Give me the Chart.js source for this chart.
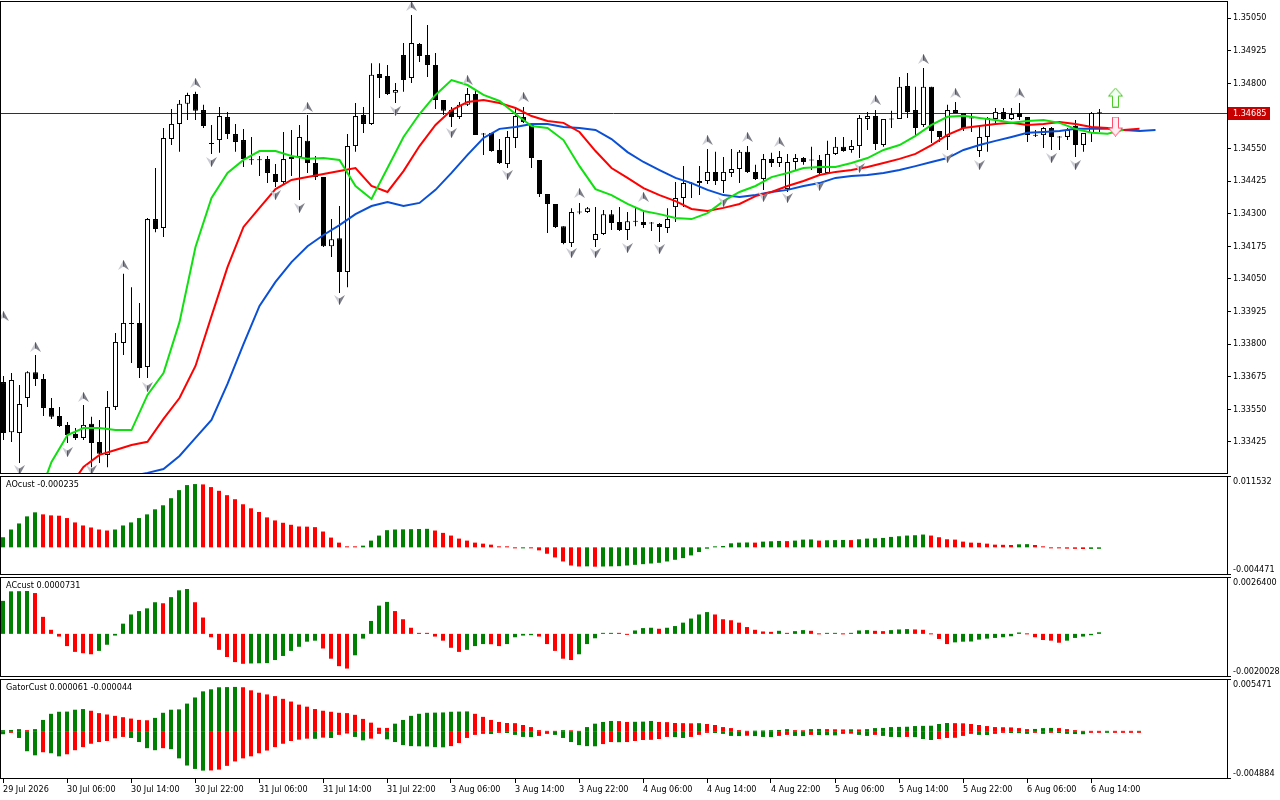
<!DOCTYPE html>
<html><head><meta charset="utf-8"><title>Alligator chart</title>
<script src="https://cdn.jsdelivr.net/npm/chart.js@4.4.1/dist/chart.umd.min.js"></script>
<style>
html,body{margin:0;padding:0;background:#fff;overflow:hidden;}
#wrap{position:relative;width:1280px;height:800px;background:#fff;}
#wrap canvas{position:absolute;left:0;}
</style></head><body>
<div id="wrap">
<canvas id="cMain" width="1280" height="473" style="top:1px;width:1280px;height:473px"></canvas>
<canvas id="cAO" width="1280" height="99" style="top:476px;width:1280px;height:99px"></canvas>
<canvas id="cAC" width="1280" height="100" style="top:577px;width:1280px;height:100px"></canvas>
<canvas id="cGator" width="1280" height="121" style="top:679px;width:1280px;height:121px"></canvas>
</div>
<script>
// ---------------- DATA ----------------
const timeLabels = ['29 Jul 2026','30 Jul 06:00','30 Jul 14:00','30 Jul 22:00','31 Jul 06:00','31 Jul 14:00','31 Jul 22:00','3 Aug 06:00','3 Aug 14:00','3 Aug 22:00','4 Aug 06:00','4 Aug 14:00','4 Aug 22:00','5 Aug 06:00','5 Aug 14:00','5 Aug 22:00','6 Aug 06:00','6 Aug 14:00'];
const labelEvery = 8;

const candleOpen = [1.33654,1.33462,1.33459,1.33593,1.33692,1.33666,1.33555,1.33524,1.33490,1.33455,
 1.33440,1.33494,1.33424,1.33375,1.33559,1.33804,1.33881,1.33881,1.33712,1.34279,
 1.34245,1.34586,1.34644,1.34721,1.34759,1.34697,1.34571,1.34582,1.34670,1.34605,
 1.34582,1.34506,1.34506,1.34509,1.34452,1.34421,1.34509,1.34517,1.34579,1.34494,
 1.34440,1.34175,1.34206,1.34076,1.34559,1.34678,1.34644,1.34835,1.34828,1.34763,
 1.34908,1.34820,1.34950,1.34908,1.34870,1.34736,1.34697,1.34670,1.34717,1.34759,
 1.34605,1.34609,1.34544,1.34490,1.34590,1.34670,1.34644,1.34506,1.34375,1.34337,
 1.34252,1.34187,1.34306,1.34306,1.34199,1.34222,1.34298,1.34268,1.34237,1.34271,
 1.34268,1.34264,1.34260,1.34245,1.34325,1.34360,1.34417,1.34417,1.34425,1.34460,
 1.34425,1.34456,1.34471,1.34537,1.34460,1.34433,1.34509,1.34494,1.34394,1.34498,
 1.34513,1.34506,1.34506,1.34456,1.34529,1.34556,1.34544,1.34559,1.34663,1.34674,
 1.34563,1.34663,1.34663,1.34789,1.34697,1.34640,1.34786,1.34617,1.34594,1.34697,
 1.34686,1.34667,1.34540,1.34594,1.34663,1.34690,1.34663,1.34686,1.34670,1.34601,
 1.34601,1.34628,1.34594,1.34594,1.34636,1.34563,1.34609,1.34686];
const candleHigh = [1.33677,1.33689,1.33643,1.33696,1.33758,1.33685,1.33593,1.33559,1.33501,1.33478,
 1.33566,1.33521,1.33509,1.33620,1.33842,1.34069,1.34018,1.33957,1.34283,1.34475,
 1.34628,1.34701,1.34736,1.34763,1.34767,1.34717,1.34640,1.34709,1.34690,1.34644,
 1.34624,1.34594,1.34521,1.34521,1.34490,1.34613,1.34621,1.34640,1.34678,1.34521,
 1.34440,1.34279,1.34329,1.34605,1.34724,1.34709,1.34877,1.34877,1.34870,1.34801,
 1.34954,1.35062,1.34954,1.35023,1.34916,1.34736,1.34709,1.34728,1.34782,1.34774,
 1.34609,1.34609,1.34586,1.34617,1.34701,1.34709,1.34644,1.34506,1.34375,1.34337,
 1.34252,1.34321,1.34341,1.34325,1.34325,1.34314,1.34314,1.34325,1.34306,1.34325,
 1.34314,1.34268,1.34264,1.34321,1.34421,1.34483,1.34421,1.34483,1.34548,1.34537,
 1.34517,1.34548,1.34544,1.34559,1.34487,1.34529,1.34533,1.34540,1.34529,1.34529,
 1.34517,1.34556,1.34525,1.34579,1.34594,1.34594,1.34582,1.34678,1.34690,1.34697,
 1.34663,1.34694,1.34824,1.34839,1.34786,1.34858,1.34786,1.34617,1.34717,1.34728,
 1.34686,1.34686,1.34632,1.34670,1.34705,1.34705,1.34705,1.34724,1.34670,1.34621,
 1.34632,1.34632,1.34598,1.34628,1.34659,1.34609,1.34690,1.34701];
const candleLow = [1.33432,1.33424,1.33344,1.33559,1.33639,1.33524,1.33513,1.33482,1.33421,1.33432,
 1.33432,1.33328,1.33344,1.33328,1.33547,1.33758,1.33727,1.33670,1.33670,1.34229,
 1.34210,1.34563,1.34537,1.34659,1.34659,1.34628,1.34529,1.34533,1.34586,1.34537,
 1.34479,1.34487,1.34444,1.34417,1.34402,1.34410,1.34444,1.34352,1.34456,1.34429,
 1.34172,1.34134,1.33996,1.34018,1.34537,1.34609,1.34640,1.34743,1.34755,1.34724,
 1.34767,1.34801,1.34881,1.34824,1.34701,1.34678,1.34632,1.34663,1.34713,1.34601,
 1.34525,1.34537,1.34490,1.34475,1.34552,1.34647,1.34475,1.34364,1.34226,1.34245,
 1.34183,1.34172,1.34298,1.34302,1.34172,1.34218,1.34237,1.34233,1.34199,1.34252,
 1.34245,1.34233,1.34191,1.34226,1.34268,1.34325,1.34360,1.34371,1.34414,1.34410,
 1.34379,1.34440,1.34417,1.34456,1.34429,1.34391,1.34479,1.34479,1.34383,1.34467,
 1.34487,1.34467,1.34448,1.34452,1.34525,1.34537,1.34533,1.34513,1.34621,1.34544,
 1.34556,1.34628,1.34663,1.34667,1.34601,1.34632,1.34571,1.34575,1.34544,1.34686,
 1.34617,1.34613,1.34517,1.34537,1.34640,1.34659,1.34659,1.34659,1.34575,1.34594,
 1.34552,1.34544,1.34544,1.34582,1.34517,1.34537,1.34575,1.34613];
const candleClose = [1.33459,1.33662,1.33570,1.33692,1.33666,1.33555,1.33521,1.33486,1.33451,1.33440,
 1.33490,1.33421,1.33379,1.33559,1.33808,1.33881,1.33877,1.33708,1.34279,1.34241,
 1.34590,1.34644,1.34721,1.34755,1.34694,1.34636,1.34567,1.34674,1.34605,1.34575,
 1.34509,1.34505,1.34505,1.34456,1.34421,1.34509,1.34517,1.34594,1.34494,1.34440,
 1.34175,1.34202,1.34076,1.34559,1.34674,1.34644,1.34832,1.34820,1.34759,1.34774,
 1.34812,1.34954,1.34904,1.34870,1.34736,1.34694,1.34670,1.34717,1.34759,1.34601,
 1.34603,1.34540,1.34494,1.34594,1.34674,1.34651,1.34513,1.34375,1.34337,1.34249,
 1.34187,1.34306,1.34304,1.34321,1.34222,1.34298,1.34264,1.34237,1.34271,1.34269,
 1.34256,1.34262,1.34249,1.34279,1.34360,1.34417,1.34415,1.34425,1.34460,1.34425,
 1.34460,1.34471,1.34537,1.34460,1.34433,1.34509,1.34494,1.34517,1.34498,1.34513,
 1.34498,1.34504,1.34456,1.34529,1.34556,1.34540,1.34559,1.34667,1.34674,1.34567,
 1.34663,1.34661,1.34786,1.34690,1.34628,1.34786,1.34617,1.34594,1.34697,1.34686,
 1.34628,1.34665,1.34594,1.34667,1.34690,1.34663,1.34682,1.34670,1.34601,1.34599,
 1.34628,1.34594,1.34592,1.34621,1.34563,1.34609,1.34686,1.34685];

// Alligator lines, one value every 2 bars from the given start bar
const jawStart = 16;
const jawLine = [1.33294,1.33306,1.33321,1.33371,1.33440,1.33509,1.33647,1.33800,1.33946,1.34038,
 1.34114,1.34175,1.34218,1.34256,1.34298,1.34329,1.34344,1.34329,1.34341,1.34391,
 1.34456,1.34525,1.34590,1.34625,1.34632,1.34644,1.34644,1.34632,1.34628,1.34621,
 1.34586,1.34536,1.34498,1.34467,1.34437,1.34417,1.34391,1.34371,1.34364,1.34371,
 1.34383,1.34391,1.34406,1.34417,1.34437,1.34444,1.34448,1.34456,1.34467,1.34482,
 1.34498,1.34513,1.34544,1.34563,1.34579,1.34594,1.34610,1.34613,1.34617,1.34625,
 1.34625,1.34625,1.34621,1.34617,1.34621];
const teethStart = 8;
const teethLine = [1.33240,1.33329,1.33375,1.33394,1.33413,1.33425,1.33513,1.33593,1.33716,1.33907,
 1.34095,1.34249,1.34322,1.34394,1.34429,1.34440,1.34452,1.34463,1.34475,1.34406,
 1.34383,1.34463,1.34559,1.34640,1.34697,1.34728,1.34736,1.34724,1.34705,1.34674,
 1.34655,1.34648,1.34613,1.34540,1.34475,1.34437,1.34398,1.34371,1.34348,1.34318,
 1.34310,1.34322,1.34337,1.34367,1.34383,1.34406,1.34425,1.34448,1.34460,1.34467,
 1.34479,1.34494,1.34510,1.34529,1.34563,1.34602,1.34628,1.34636,1.34644,1.34648,
 1.34640,1.34644,1.34651,1.34644,1.34632,1.34628,1.34621,1.34625];
const lipsStart = 4;
const lipsLine = [1.33183,1.33348,1.33451,1.33478,1.33478,1.33470,1.33470,1.33605,1.33689,1.33884,
 1.34172,1.34360,1.34456,1.34506,1.34540,1.34540,1.34521,1.34510,1.34513,1.34506,
 1.34406,1.34356,1.34475,1.34594,1.34682,1.34755,1.34812,1.34793,1.34755,1.34732,
 1.34682,1.34636,1.34628,1.34582,1.34482,1.34394,1.34371,1.34337,1.34310,1.34298,
 1.34283,1.34279,1.34302,1.34348,1.34383,1.34406,1.34440,1.34456,1.34475,1.34479,
 1.34479,1.34494,1.34513,1.34544,1.34563,1.34598,1.34640,1.34671,1.34675,1.34667,
 1.34659,1.34648,1.34655,1.34659,1.34648,1.34625,1.34610,1.34606,1.34621];

const fractalUpBar = [0,4,10,15,24,38,51,58,65,72,80,88,93,97,109,115,119,127];
const fractalUpPrice = [1.33907,1.33789,1.33597,1.34103,1.34801,1.34709,1.35096,1.34812,1.34747,1.34379,1.34364,1.34582,1.34594,1.34575,1.34736,1.34893,1.34762,1.34762];
const fractalDownBar = [2,8,11,18,26,34,37,42,49,56,63,71,74,78,82,90,95,98,102,107,118,122,131,134];
const fractalDownPrice = [1.33317,1.33386,1.33317,1.33635,1.34498,1.34371,1.34322,1.33969,1.34693,1.34609,1.34448,1.34149,1.34149,1.34168,1.34164,1.34344,1.34364,1.34360,1.34406,1.34475,1.34513,1.34486,1.34513,1.34486];

const signalUpBar = [139], signalUpPrice = [1.34745];
const signalDownBar = [139], signalDownPrice = [1.34634];

const currentPrice = 1.34685;
const priceRange = [1.333017, 1.351152];
const priceTicks = [1.35050,1.34925,1.34800,1.34550,1.34425,1.34300,1.34175,1.34050,1.33925,1.33800,1.33675,1.33550,1.33425];

const aoValues = [0.001632,0.002883,0.003862,0.005005,0.005658,0.005331,0.005168,0.005114,0.004733,0.004026,
 0.003536,0.003210,0.002883,0.002720,0.002884,0.003536,0.004026,0.004733,0.005331,0.006147,
 0.006800,0.007942,0.009248,0.010064,0.010227,0.010173,0.009738,0.009139,0.008432,0.007779,
 0.006963,0.006310,0.005712,0.004842,0.004352,0.003971,0.003645,0.003373,0.003346,0.003264,
 0.002557,0.001578,0.000762,0.000054,0.000027,0.000272,0.001088,0.001904,0.002774,0.002883,
 0.002910,0.002938,0.002965,0.002992,0.002720,0.002339,0.001904,0.001414,0.001088,0.000762,
 0.000598,0.000435,0.000054,0.000027,-0.000109,-0.000082,-0.000163,-0.000490,-0.001034,-0.001632,
 -0.002285,-0.002938,-0.003101,-0.003074,-0.003128,-0.003101,-0.003074,-0.003046,-0.002938,-0.002829,
 -0.002720,-0.002611,-0.002502,-0.002285,-0.002013,-0.001741,-0.001306,-0.000762,-0.000218,0.000054,
 0.000218,0.000653,0.000762,0.000789,0.000762,0.000925,0.000979,0.001034,0.001006,0.001088,
 0.001251,0.001278,0.001088,0.001142,0.001170,0.001197,0.001170,0.001306,0.001414,0.001469,
 0.001523,0.001686,0.001795,0.001904,0.001958,0.002067,0.001904,0.001632,0.001306,0.001251,
 0.000925,0.000762,0.000734,0.000598,0.000435,0.000408,0.000381,0.000490,0.000517,0.000381,
 0.000054,-0.000054,-0.000163,-0.000207,-0.000239,-0.000267,-0.000250,-0.000235];
const aoScaleLabels = ['0.011532', '-0.004471'];

const acValues = [0.001532,0.001974,0.001982,0.001990,0.001895,0.000790,0.000189,-0.000126,-0.000568,-0.000837,
 -0.000900,-0.000947,-0.000790,-0.000505,-0.000079,0.000474,0.000900,0.001058,0.001184,0.001468,
 0.001421,0.001705,0.002021,0.002084,0.001468,0.000758,-0.000158,-0.000742,-0.001074,-0.001311,
 -0.001390,-0.001374,-0.001366,-0.001358,-0.001216,-0.001026,-0.000790,-0.000600,-0.000363,-0.000316,
 -0.000679,-0.001153,-0.001500,-0.001611,-0.000995,-0.000221,0.000600,0.001311,0.001484,0.001058,
 0.000679,0.000284,0.000032,0.000016,-0.000126,-0.000316,-0.000647,-0.000837,-0.000742,-0.000568,
 -0.000474,-0.000482,-0.000568,-0.000474,-0.000158,-0.000079,-0.000063,-0.000126,-0.000474,-0.000790,
 -0.001153,-0.001216,-0.000947,-0.000474,-0.000205,0.000008,0.000032,0.000008,-0.000016,0.000158,
 0.000268,0.000284,0.000237,0.000284,0.000363,0.000521,0.000711,0.000900,0.001011,0.000900,
 0.000679,0.000632,0.000521,0.000316,0.000189,0.000111,0.000095,0.000142,0.000032,0.000126,
 0.000174,0.000142,0.000000,0.000008,0.000016,0.000000,0.000047,0.000158,0.000174,0.000142,
 0.000126,0.000174,0.000205,0.000221,0.000205,0.000189,0.000000,-0.000237,-0.000474,-0.000395,
 -0.000363,-0.000355,-0.000268,-0.000221,-0.000189,-0.000158,-0.000111,0.000063,0.000000,-0.000158,
 -0.000284,-0.000316,-0.000411,-0.000316,-0.000189,-0.000126,-0.000063,0.0000731];
const acScaleLabels = ['0.0026400', '-0.0020028'];

const gatorUpper = [0.000176,0.000194,0.000282,0.000176,0.000282,0.001233,0.001867,0.002079,0.002096,0.002290,
 0.002360,0.002184,0.001938,0.001797,0.001656,0.001515,0.001374,0.001233,0.001198,0.001444,
 0.001973,0.002290,0.002325,0.002924,0.003558,0.004192,0.004404,0.004615,0.004633,0.004650,
 0.004615,0.004298,0.004051,0.003875,0.003699,0.003417,0.003135,0.002818,0.002607,0.002360,
 0.002184,0.002079,0.001973,0.001938,0.001762,0.001339,0.000951,0.000423,0.000405,0.000846,
 0.001233,0.001656,0.001867,0.001973,0.001990,0.002008,0.002079,0.002096,0.002114,0.001867,
 0.001550,0.001233,0.001022,0.000916,0.000898,0.000705,0.000493,0.000176,0.000070,0.000053,
 0.000176,0.000159,0.000070,0.000493,0.000846,0.001022,0.001127,0.001110,0.001022,0.001039,
 0.001057,0.001127,0.001022,0.001004,0.000916,0.000898,0.000881,0.000898,0.000810,0.000705,
 0.000493,0.000388,0.000176,0.000106,0.000123,0.000141,0.000176,0.000194,0.000282,0.000176,
 0.000159,0.000282,0.000299,0.000282,0.000264,0.000247,0.000264,0.000247,0.000282,0.000388,
 0.000405,0.000493,0.000511,0.000528,0.000599,0.000617,0.000634,0.000810,0.000916,0.000898,
 0.000881,0.000810,0.000705,0.000599,0.000493,0.000476,0.000458,0.000388,0.000282,0.000299,
 0.000388,0.000405,0.000388,0.000282,0.000176,0.000070,0.000018,0.000011,0.000014,0.000011,
 0.000009,0.000007,0.000061];
const gatorLower = [-0.000247,-0.000106,-0.000634,-0.002008,-0.002431,-0.002114,-0.002219,-0.002537,-0.002325,-0.001902,
 -0.001585,-0.001233,-0.001057,-0.000951,-0.000669,-0.000528,-0.000634,-0.001057,-0.001691,-0.001902,
 -0.001691,-0.001797,-0.002748,-0.003488,-0.003840,-0.004016,-0.003999,-0.003911,-0.003523,-0.003065,
 -0.002748,-0.002537,-0.002219,-0.001938,-0.001585,-0.001233,-0.000951,-0.000810,-0.000705,-0.000722,
 -0.000599,-0.000634,-0.000317,-0.000176,-0.000528,-0.000881,-0.000705,-0.000211,-0.000775,-0.001057,
 -0.001374,-0.001480,-0.001497,-0.001515,-0.001585,-0.001603,-0.001480,-0.001163,-0.000634,-0.000317,
 -0.000211,-0.000229,-0.000106,-0.000123,-0.000317,-0.000528,-0.000546,-0.000423,-0.000211,-0.000317,
 -0.000634,-0.001057,-0.001374,-0.001480,-0.001497,-0.001268,-0.001057,-0.001075,-0.001057,-0.000951,
 -0.000846,-0.000828,-0.000740,-0.000528,-0.000546,-0.000634,-0.000528,-0.000317,-0.000106,-0.000123,
 -0.000211,-0.000423,-0.000440,-0.000405,-0.000440,-0.000528,-0.000546,-0.000423,-0.000317,-0.000423,
 -0.000440,-0.000317,-0.000335,-0.000352,-0.000370,-0.000211,-0.000194,-0.000317,-0.000423,-0.000317,
 -0.000423,-0.000528,-0.000546,-0.000528,-0.000546,-0.000740,-0.000846,-0.000740,-0.000634,-0.000617,
 -0.000423,-0.000211,-0.000317,-0.000335,-0.000211,-0.000106,-0.000123,-0.000141,-0.000211,-0.000106,
 -0.000211,-0.000106,-0.000123,-0.000211,-0.000229,-0.000247,-0.000053,-0.000042,-0.000088,-0.000053,
 -0.000046,-0.0000445,-0.000044];
const gatorScaleLabels = ['0.005471', '-0.004884'];

const aoTitle = 'AOcust -0.000235';
const acTitle = 'ACcust 0.0000731';
const gatorTitle = 'GatorCust 0.000061 -0.000044';

// ---------------- STYLE / LAYOUT ----------------
const GREEN = '#008000', RED = '#ff0000';
const FONT_FAMILY = '"DejaVu Sans Condensed", "Liberation Sans", sans-serif';
const FONT_SIZE = 9;
Chart.defaults.font.family = FONT_FAMILY;
Chart.defaults.font.size = FONT_SIZE;
Chart.defaults.color = '#000';
Chart.defaults.animation = false;
const BAR_PX = 8, PLOT_W = 1227, AXIS_W = 53;
const FONT_CSS = FONT_SIZE + 'px ' + FONT_FAMILY;

function xAxis(firstCenterPx, withLabels) {
  const min = -firstCenterPx / BAR_PX;
  const ax = {
    type: 'linear', min: min, max: min + PLOT_W / BAR_PX, offset: false, bounds: 'data',
    display: !!withLabels,
    grid: { display: false }, border: { display: false }, ticks: { display: false }
  };
  if (withLabels) {
    ax.position = 'bottom';
    ax.afterBuildTicks = s => { s.ticks = timeLabels.map((_, k) => ({ value: k * labelEvery })); };
    ax.afterFit = s => { s.height = 21; s.paddingLeft = 0; s.paddingRight = 0; };
    ax.ticks = { display: true, autoSkip: false, maxRotation: 0, minRotation: 0, align: 'start', padding: 1,
      callback: (v, i) => timeLabels[i], font: { size: FONT_SIZE }, color: '#000' };
    ax.grid = { display: true, drawOnChartArea: false, drawTicks: true, tickLength: 4, color: '#000', offset: false };
  }
  return ax;
}
function subY(labels) {
  return { position: 'right', min: parseFloat(labels[1]), max: parseFloat(labels[0]), bounds: 'data',
    afterFit: s => { s.width = AXIS_W; },
    ticks: { display: false }, grid: { display: false }, border: { display: false } };
}
function framePlugin(title, scaleLabels) {
  return {
    id: 'frame',
    afterDraw(chart) {
      const ctx = chart.ctx, a = chart.chartArea;
      ctx.save();
      ctx.strokeStyle = '#000'; ctx.lineWidth = 1;
      ctx.strokeRect(a.left + 0.5, a.top + 0.5, a.right - a.left, a.bottom - a.top - 1);
      ctx.font = FONT_CSS; ctx.fillStyle = '#000';
      ctx.textBaseline = 'middle'; ctx.textAlign = 'left';
      if (title) ctx.fillText(title, a.left + 6, a.top + 9);
      if (scaleLabels) {
        ctx.beginPath();
        ctx.moveTo(a.right, a.top + 0.5); ctx.lineTo(a.right + 4, a.top + 0.5);
        ctx.moveTo(a.right, a.bottom - 0.5); ctx.lineTo(a.right + 4, a.bottom - 0.5);
        ctx.stroke();
        ctx.fillText(scaleLabels[0], a.right + 6, a.top + 5.5);
        ctx.fillText(scaleLabels[1], a.right + 6, a.bottom - 5.5);
      }
      ctx.restore();
    }
  };
}
function trendColor(arr, useAbs) {
  return c => {
    const i = c.dataIndex;
    if (i === 0) return GREEN;
    const a = useAbs ? Math.abs(arr[i]) : arr[i];
    const b = useAbs ? Math.abs(arr[i - 1]) : arr[i - 1];
    return a > b ? GREEN : RED;
  };
}
function makeFractal(up) {
  const c = document.createElement('canvas'); c.width = 11; c.height = 10;
  const g = c.getContext('2d');
  if (!up) { g.translate(0, 10); g.scale(1, -1); }
  g.beginPath(); g.moveTo(5.5, 0); g.lineTo(0, 10); g.lineTo(5.5, 6.5); g.closePath();
  g.fillStyle = '#c9c9d2'; g.fill();
  g.beginPath(); g.moveTo(5.5, 0); g.lineTo(11, 10); g.lineTo(5.5, 6.5); g.closePath();
  g.fillStyle = '#7e7e88'; g.fill();
  g.beginPath(); g.moveTo(5.5, 0.5); g.lineTo(5.5, 6.5);
  g.strokeStyle = '#55555d'; g.lineWidth = 1; g.stroke();
  return c;
}
function makeBlockArrow(up, stroke, fill) {
  const c = document.createElement('canvas'); c.width = 15; c.height = 20;
  const g = c.getContext('2d');
  if (!up) { g.translate(0, 20); g.scale(1, -1); }
  g.beginPath();
  g.moveTo(7.5, 0.5); g.lineTo(14.5, 8.5); g.lineTo(10.5, 8.5); g.lineTo(10.5, 19.5);
  g.lineTo(4.5, 19.5); g.lineTo(4.5, 8.5); g.lineTo(0.5, 8.5); g.closePath();
  g.fillStyle = fill; g.fill();
  g.lineWidth = 1; g.strokeStyle = stroke; g.stroke();
  return c;
}

const baseOpts = {
  responsive: false, maintainAspectRatio: false, animation: false, events: [],
  layout: { padding: 0, autoPadding: false },
  plugins: { legend: { display: false }, tooltip: { enabled: false }, title: { display: false } }
};

// ---------------- MAIN PANE ----------------
const bars = candleOpen.map((_, i) => i);
const lineData = (start, vals) => vals.map((v, k) => ({ x: start + 2 * k, y: v }));
const mainX = xAxis(3.5, false);

new Chart(document.getElementById('cMain'), {
  type: 'bar',
  data: {
    datasets: [
      { type: 'bar', data: bars.map(i => ({ x: i, y: [candleLow[i], candleHigh[i]] })),
        backgroundColor: '#000', borderWidth: 0, barThickness: 1, grouped: false, inflateAmount: 0, order: 6 },
      { type: 'bar', data: bars.map(i => ({ x: i, y: [candleOpen[i], candleClose[i]] })),
        backgroundColor: c => (candleClose[c.dataIndex] - candleOpen[c.dataIndex] > 0.00003 ? '#fff' : '#000'),
        borderColor: '#000', borderWidth: 1, borderSkipped: false, barThickness: 5, minBarLength: 1,
        grouped: false, inflateAmount: 0, order: 5 },
      { type: 'line', data: lineData(jawStart, jawLine), borderColor: '#0a50d6', borderWidth: 2,
        pointRadius: 0, tension: 0, order: 3, clip: 0 },
      { type: 'line', data: lineData(teethStart, teethLine), borderColor: '#ff0000', borderWidth: 2,
        pointRadius: 0, tension: 0, order: 2, clip: 0 },
      { type: 'line', data: lineData(lipsStart, lipsLine), borderColor: '#10e010', borderWidth: 2,
        pointRadius: 0, tension: 0, order: 1, clip: 0 },
      { type: 'scatter', data: fractalUpBar.map((b, k) => ({ x: b, y: fractalUpPrice[k] })),
        pointStyle: makeFractal(true), pointRadius: 5, showLine: false, order: 0 },
      { type: 'scatter', data: fractalDownBar.map((b, k) => ({ x: b, y: fractalDownPrice[k] })),
        pointStyle: makeFractal(false), pointRadius: 5, showLine: false, order: 0 },
      { type: 'scatter', data: signalUpBar.map((b, k) => ({ x: b, y: signalUpPrice[k] })),
        pointStyle: makeBlockArrow(true, '#4fc82a', '#f2fff4'), pointRadius: 8, showLine: false, order: -1 },
      { type: 'scatter', data: signalDownBar.map((b, k) => ({ x: b, y: signalDownPrice[k] })),
        pointStyle: makeBlockArrow(false, '#ff4d6d', '#ffeef2'), pointRadius: 8, showLine: false, order: -1 }
    ]
  },
  options: Object.assign({}, baseOpts, {
    scales: {
      x: mainX,
      y: { position: 'right', min: priceRange[0], max: priceRange[1], bounds: 'data',
        afterBuildTicks: s => { s.ticks = priceTicks.map(v => ({ value: v })); },
        afterFit: s => { s.width = AXIS_W; s.paddingTop = 0; s.paddingBottom = 0; },
        ticks: { callback: v => Number(v).toFixed(5), padding: 2, autoSkip: false, color: '#000', font: { size: FONT_SIZE } },
        grid: { drawOnChartArea: false, drawTicks: true, tickLength: 4, color: '#000' },
        border: { display: false } }
    }
  }),
  plugins: [framePlugin(null, null), {
    id: 'priceLine',
    beforeDatasetsDraw(chart) {
      const ctx = chart.ctx, a = chart.chartArea;
      const y = Math.round(chart.scales.y.getPixelForValue(currentPrice)) + 0.5;
      ctx.save();
      ctx.strokeStyle = '#a80000'; ctx.lineWidth = 1;
      ctx.beginPath(); ctx.moveTo(a.left, y); ctx.lineTo(a.right, y); ctx.stroke();
      ctx.restore();
    },
    afterDraw(chart) {
      const ctx = chart.ctx, a = chart.chartArea;
      const y = Math.round(chart.scales.y.getPixelForValue(currentPrice));
      ctx.save();
      ctx.fillStyle = '#c80000';
      ctx.fillRect(a.right + 1, y - 6, 42, 13);
      ctx.fillStyle = '#fff'; ctx.font = FONT_CSS;
      ctx.textBaseline = 'middle'; ctx.textAlign = 'left';
      ctx.fillText(currentPrice.toFixed(5), a.right + 6, y + 0.5);
      ctx.restore();
    }
  }]
});

// ---------------- SUB PANES ----------------
function histoChart(id, series, scaleLabels, title) {
  return new Chart(document.getElementById(id), {
    type: 'bar',
    data: { datasets: [{ data: series.map((v, i) => ({ x: i, y: v })), backgroundColor: trendColor(series, false),
      borderWidth: 0, barThickness: 4, minBarLength: 1, inflateAmount: 0, grouped: false }] },
    options: Object.assign({}, baseOpts, { scales: { x: xAxis(3, false), y: subY(scaleLabels) } }),
    plugins: [framePlugin(title, scaleLabels)]
  });
}
histoChart('cAO', aoValues, aoScaleLabels, aoTitle);
histoChart('cAC', acValues, acScaleLabels, acTitle);

new Chart(document.getElementById('cGator'), {
  type: 'bar',
  data: { datasets: [
    { data: gatorUpper.map((v, i) => ({ x: i, y: v })), backgroundColor: trendColor(gatorUpper, true),
      borderWidth: 0, barThickness: 4, minBarLength: 1, inflateAmount: 0, grouped: false },
    { data: gatorLower.map((v, i) => ({ x: i, y: v })), backgroundColor: trendColor(gatorLower, true),
      borderWidth: 0, barThickness: 4, minBarLength: 1, inflateAmount: 0, grouped: false }
  ] },
  options: Object.assign({}, baseOpts, { scales: { x: xAxis(3, true), y: subY(gatorScaleLabels) } }),
  plugins: [framePlugin(gatorTitle, gatorScaleLabels)]
});
</script>
</body></html>
